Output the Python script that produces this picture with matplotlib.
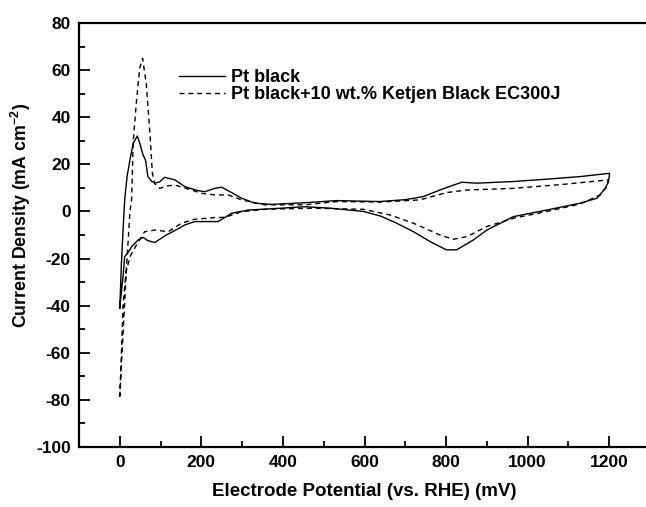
import matplotlib
matplotlib.use("Agg")
import matplotlib.pyplot as plt
from matplotlib.ticker import MultipleLocator

plt.rcParams["font.family"] = ["Liberation Sans", "DejaVu Sans"]
plt.rcParams["font.weight"] = "bold"
plt.rcParams["axes.unicode_minus"] = False
plt.rcParams["mathtext.fontset"] = "custom"
plt.rcParams["mathtext.rm"] = "Liberation Sans:bold"
plt.rcParams["mathtext.bf"] = "Liberation Sans:bold"

# Pt black: anodic sweep then cathodic sweep (mV, mA cm^-2)
pt_potential = [0, 4, 8, 12, 18, 25, 33, 43, 49, 57, 63, 69, 78, 86, 98, 110, 135, 160,
                192, 209, 233, 250, 270, 299, 331, 372, 454, 532, 638, 700, 744, 785,
                815, 839, 875, 965, 1047, 1129, 1201,
                1198, 1190, 1170, 1129, 1047, 965, 900, 867, 826, 801, 780, 761, 720,
                679, 640, 597, 515, 454, 397, 315, 274, 241, 217, 184, 160, 135, 110,
                86, 69, 57, 45, 29, 20, 12, 8, 4, 0]
pt_current = [-41, -22, -8, 5, 15, 22, 29, 32, 29, 24, 21.9, 14.8, 12.8, 12, 12.6, 14.5,
              13.4, 10.5, 8.8, 8.4, 9.8, 10.3, 8.4, 5.6, 3.5, 3.0, 3.7, 4.6, 4.2, 5.0,
              6.3, 9.1, 11.0, 12.4, 12.0, 12.7, 13.7, 14.8, 16.2,
              12.5, 9.8, 5.6, 3.5, 0.6, -2.2, -7.9, -12.1, -16.3, -16.3, -14.5, -12.8,
              -8.6, -5.0, -2.0, 0.0, 1.4, 2.0, 1.4, 0.6, -0.8, -4.3, -4.3, -4.3, -5.7,
              -8.1, -10.4, -13.2, -12.4, -11.0, -12.1, -15.0, -17.5, -19.2, -27.7,
              -34, -41]

# Pt black + 10 wt.% Ketjen Black EC300J
kb_potential = [0, 8, 16, 25, 29, 33, 41, 49, 56, 65, 74, 80, 86, 98, 115, 135, 176,
                200, 233, 266, 299, 356, 454, 532, 638, 736, 801, 851, 965, 1088, 1198,
                1194, 1178, 1129, 1047, 965, 900, 851, 818, 785, 720, 663, 597, 474,
                356, 299, 258, 233, 184, 151, 119, 86, 61, 41, 25, 15, 8, 4, 0]
kb_current = [-78.6, -52, -25, 0, 5, 30, 47, 61, 65, 54, 33, 16, 11.7, 9.8, 10.8,
              11.2, 9.1, 7.7, 7.0, 7.0, 4.9, 2.8, 2.8, 4.2, 4.0, 4.9, 8.0, 9.1, 9.8,
              11.5, 13.4,
              10.5, 7.0, 3.2, 0.0, -2.9, -6.4, -10.7, -11.8, -10.0, -5.0, -1.5, 0.9,
              1.4, 0.9, -0.1, -2.5, -2.6, -3.3, -5.0, -8.6, -7.9, -8.6, -14.2, -19.2,
              -26, -40, -60, -78.6]

labels = ["Pt black", "Pt black+10 wt.% Ketjen Black EC300J"]

fig = plt.figure(figsize=(6.46, 5.07), dpi=100)
ax = fig.add_axes([79 / 646, 60 / 507, 571 / 646, 424 / 507])

ax.plot(pt_potential, pt_current, color="black", linewidth=1.0, label=labels[0])
ax.plot(kb_potential, kb_current, color="black", linewidth=1.0, dashes=(3.6, 2.8),
        label=labels[1])

ax.set_xlim(-100, 1300)
ax.set_ylim(-100, 80)
ax.xaxis.set_major_locator(MultipleLocator(200))
ax.xaxis.set_minor_locator(MultipleLocator(100))
ax.yaxis.set_major_locator(MultipleLocator(20))
ax.yaxis.set_minor_locator(MultipleLocator(10))
ax.tick_params(which="both", direction="in", width=1.3, labelsize=12.5,
               top=False, right=False, pad=6)
ax.tick_params(which="major", length=8)
ax.tick_params(which="minor", length=4)
for side in ax.spines.values():
    side.set_linewidth(1.6)

ax.set_xlabel("Electrode Potential (vs. RHE) (mV)", fontsize=13.5, fontweight="bold",
              labelpad=9)
ax.set_ylabel("Current Density (mA cm$^{-2}$)", fontsize=12.8, fontweight="bold")
ax.yaxis.set_label_coords(-0.08, 0.547)

ax.legend(loc="upper left", bbox_to_anchor=(0.147, 0.930), frameon=False, fontsize=13,
          handlelength=2.55, handletextpad=0.3, labelspacing=0.0)

fig.savefig("out.png", dpi=100)
